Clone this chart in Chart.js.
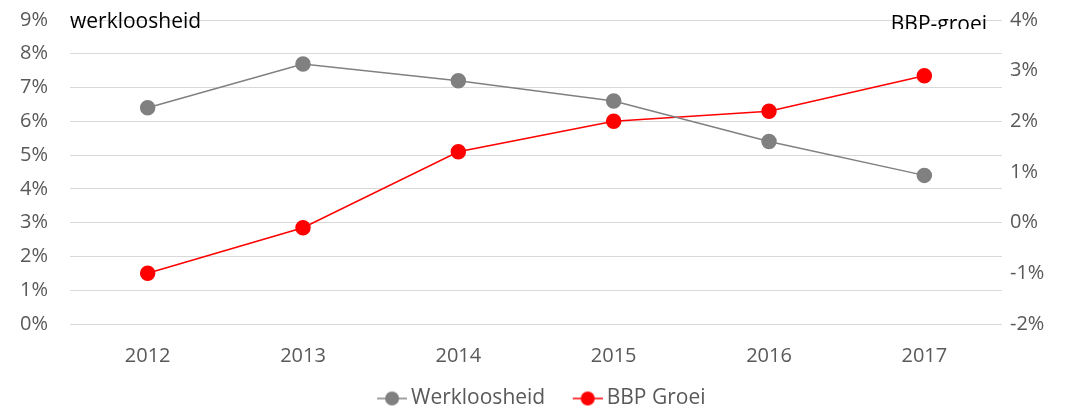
<!DOCTYPE html>
<html>
<head>
<meta charset="utf-8">
<script src="https://cdn.jsdelivr.net/npm/chart.js@4.4.0/dist/chart.umd.min.js"></script>
<style>
  html, body { margin: 0; padding: 0; background: #fff; }
  #wrap { width: 1067px; height: 419px; }
</style>
</head>
<body>
<div id="wrap"><canvas id="chart"></canvas></div>
<script>
const years = ['2012', '2013', '2014', '2015', '2016', '2017'];
const werkloosheid = [6.4, 7.7, 7.2, 6.6, 5.4, 4.4];
const bbpGroei = [-1.0, -0.1, 1.4, 2.0, 2.2, 2.9];
const leftTicks = [0, 1, 2, 3, 4, 5, 6, 7, 8, 9];
const rightTicks = [-2, -1, 0, 1, 2, 3, 4];

const FONT = '"Open Sans", sans-serif';
const TICK_COLOR = '#595959';

// legend marker: a short line with a dot in the middle, padded on the left
function legendMarker(color) {
    const c = document.createElement('canvas');
    c.width = 56;
    c.height = 16;
    const g = c.getContext('2d');
    g.strokeStyle = color;
    g.lineWidth = 1.5;
    g.beginPath();
    g.moveTo(26, 8);
    g.lineTo(56, 8);
    g.stroke();
    g.fillStyle = color;
    g.beginPath();
    g.arc(41, 8, 7, 0, Math.PI * 2);
    g.fill();
    return c;
}

const axisTitles = {
    id: 'axisTitles',
    afterLayout(chart) {
        // marker padding makes the legend sit a bit right of centre
        chart.legend.left -= 12;
        chart.legend.right -= 12;
    },
    afterDraw(chart) {
        const ctx = chart.ctx;
        const area = chart.chartArea;
        ctx.save();
        ctx.font = '21px ' + FONT;
        ctx.fillStyle = '#000';
        ctx.textBaseline = 'alphabetic';
        ctx.textAlign = 'left';
        ctx.fillText('werkloosheid', area.left, 28);
        ctx.beginPath();
        ctx.rect(area.left, 0, area.right - area.left, 29);
        ctx.clip();
        ctx.textAlign = 'right';
        ctx.fillText('BBP-groei', area.right - 15, 31);
        ctx.restore();
    }
};

new Chart(document.getElementById('chart').getContext('2d'), {
    type: 'line',
    data: {
        labels: years,
        datasets: [{
            label: 'Werkloosheid',
            data: werkloosheid,
            yAxisID: 'y',
            borderColor: '#808080',
            backgroundColor: '#808080',
            borderWidth: 1.5,
            pointRadius: 7,
            pointHoverRadius: 7,
            pointStyle: 'circle',
            tension: 0
        }, {
            label: 'BBP Groei',
            data: bbpGroei,
            yAxisID: 'y1',
            borderColor: '#ff0000',
            backgroundColor: '#ff0000',
            borderWidth: 1.5,
            pointRadius: 7,
            pointHoverRadius: 7,
            pointStyle: 'circle',
            tension: 0
        }]
    },
    options: {
        responsive: true,
        maintainAspectRatio: false,
        animation: false,
        layout: { padding: { top: 3, bottom: 0, left: 20 } },
        scales: {
            x: {
                offset: true,
                grid: { display: false },
                border: { display: false },
                ticks: { color: TICK_COLOR, font: { family: FONT, size: 20 }, padding: 12 }
            },
            y: {
                position: 'left',
                min: 0,
                max: 9,
                afterBuildTicks(axis) { axis.ticks = leftTicks.map(v => ({ value: v })); },
                afterFit(axis) { axis.width = 50; },
                grid: { color: '#d9d9d9', drawTicks: false },
                border: { display: false },
                ticks: {
                    color: TICK_COLOR,
                    font: { family: FONT, size: 20 },
                    padding: 8,
                    crossAlign: 'far',
                    callback: v => v + '%'
                }
            },
            y1: {
                position: 'right',
                min: -2,
                max: 4,
                afterBuildTicks(axis) { axis.ticks = rightTicks.map(v => ({ value: v })); },
                afterFit(axis) { axis.width = 65; },
                grid: { display: false, drawTicks: false },
                border: { display: false },
                ticks: {
                    color: TICK_COLOR,
                    font: { family: FONT, size: 20 },
                    padding: 8,
                    callback: v => v + '%'
                }
            }
        },
        plugins: {
            legend: {
                position: 'bottom',
                labels: {
                    usePointStyle: true,
                    pointStyleWidth: 43,
                    color: TICK_COLOR,
                    font: { family: FONT, size: 21 },
                    padding: 8,
                    generateLabels(chart) {
                        return chart.data.datasets.map((ds, i) => ({
                            text: ds.label,
                            pointStyle: legendMarker(ds.borderColor),
                            fillStyle: ds.borderColor,
                            strokeStyle: ds.borderColor,
                            fontColor: TICK_COLOR,
                            lineWidth: 0,
                            hidden: false,
                            datasetIndex: i
                        }));
                    }
                }
            },
            tooltip: { enabled: false }
        }
    },
    plugins: [axisTitles]
});
</script>
</body>
</html>
